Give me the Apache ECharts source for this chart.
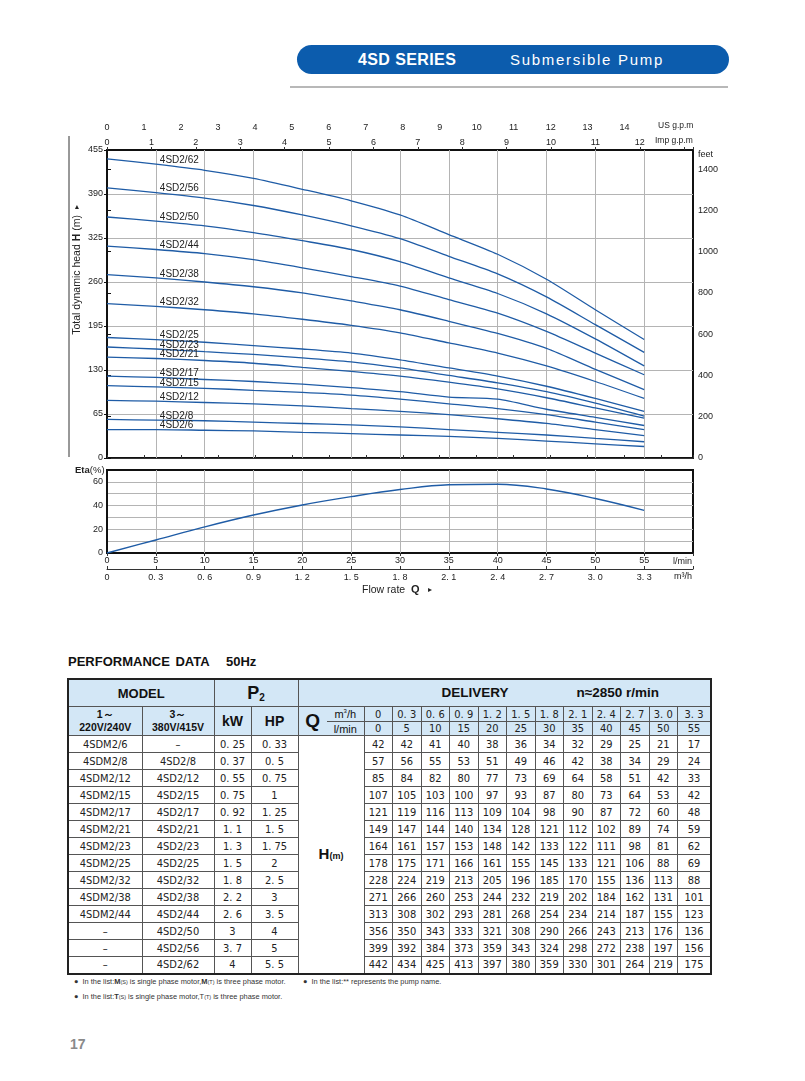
<!DOCTYPE html>
<html><head><meta charset="utf-8">
<script src="https://cdn.jsdelivr.net/npm/echarts@6/dist/echarts.min.js"></script>
<style>
body{margin:0;background:#fff;width:805px;height:1081px;position:relative;overflow:hidden;font-family:"Liberation Sans",Arial,sans-serif;color:#111;}
#pill{position:absolute;left:297px;top:45px;width:432px;height:29px;border-radius:14.5px;background:#0c5cad;}
.ptxt{position:absolute;top:45px;height:29px;line-height:29px;color:#fff;white-space:nowrap;}
#hline{position:absolute;left:290px;top:86px;width:438px;height:2px;background:#b8b8b8;}
#ptitle{position:absolute;left:68px;top:654px;font-weight:bold;font-size:13px;white-space:nowrap;word-spacing:2px;}
#perf{position:absolute;left:67px;top:678px;border-collapse:collapse;table-layout:fixed;border:2px solid #222;}
#perf td{border:1px solid #555;padding:0;text-align:center;overflow:hidden;white-space:nowrap;vertical-align:middle;}
#perf tr.hd td{background:#d3e7f6;}
#perf td.n{font-family:"Liberation Sans Narrow","DejaVu Sans Condensed",sans-serif;font-size:11px;color:#222;}
#perf td.hm{background:#fff;}
.note{position:absolute;left:74px;font-size:7.4px;color:#333;white-space:nowrap;}
#pnum{position:absolute;left:70px;top:1036px;font-size:14px;font-weight:bold;color:#8a8a8a;}
</style></head><body>
<div id="pill"></div>
<div class="ptxt" style="left:358px;font-weight:bold;font-size:16px;letter-spacing:0.4px;">4SD SERIES</div>
<div class="ptxt" style="left:510px;font-size:15px;letter-spacing:1.7px;">Submersible Pump</div>
<div id="hline"></div>
<div id="chart" style="position:absolute;left:0;top:0;width:805px;height:620px"></div>
<div id="ptitle">PERFORMANCE DATA &nbsp;&nbsp;50Hz</div>
<table id="perf"></table>
<div class="note" style="top:977px;">● &nbsp;In the list:<b>M</b><span style="font-size:5.5px">(S)</span> is single phase motor,<b>M</b><span style="font-size:5.5px">(T)</span> is three phase motor.</div>
<div class="note" style="top:977px;left:303px;">● &nbsp;In the list:** represents the pump name.</div>
<div class="note" style="top:992px;">● &nbsp;In the list:<b>T</b><span style="font-size:5.5px">(S)</span> is single phase motor,T<span style="font-size:5.5px">(T)</span> is three phase motor.</div>
<div id="pnum">17</div>
<script>
// ---------------- data ----------------
const flowLmin = [0,5,10,15,20,25,30,35,40,45,50,55];
const flowM3hLabels = ['0','0. 3','0. 6','0. 9','1. 2','1. 5','1. 8','2. 1','2. 4','2. 7','3. 0','3. 3'];
const modelSingle = ['4SDM2/6','4SDM2/8','4SDM2/12','4SDM2/15','4SDM2/17','4SDM2/21','4SDM2/23','4SDM2/25','4SDM2/32','4SDM2/38','4SDM2/44','–','–','–'];
const modelThree = ['–','4SD2/8','4SD2/12','4SD2/15','4SD2/17','4SD2/21','4SD2/23','4SD2/25','4SD2/32','4SD2/38','4SD2/44','4SD2/50','4SD2/56','4SD2/62'];
const powerKW = ['0. 25','0. 37','0. 55','0. 75','0. 92','1. 1','1. 3','1. 5','1. 8','2. 2','2. 6','3','3. 7','4'];
const powerHP = ['0. 33','0. 5','0. 75','1','1. 25','1. 5','1. 75','2','2. 5','3','3. 5','4','5','5. 5'];
const curveNames = ['4SD2/6','4SD2/8','4SD2/12','4SD2/15','4SD2/17','4SD2/21','4SD2/23','4SD2/25','4SD2/32','4SD2/38','4SD2/44','4SD2/50','4SD2/56','4SD2/62'];
const head6  = [42,42,41,40,38,36,34,32,29,25,21,17];
const head8  = [57,56,55,53,51,49,46,42,38,34,29,24];
const head12 = [85,84,82,80,77,73,69,64,58,51,42,33];
const head15 = [107,105,103,100,97,93,87,80,73,64,53,42];
const head17 = [121,119,116,113,109,104,98,90,87,72,60,48];
const head21 = [149,147,144,140,134,128,121,112,102,89,74,59];
const head23 = [164,161,157,153,148,142,133,122,111,98,81,62];
const head25 = [178,175,171,166,161,155,145,133,121,106,88,69];
const head32 = [228,224,219,213,205,196,185,170,155,136,113,88];
const head38 = [271,266,260,253,244,232,219,202,184,162,131,101];
const head44 = [313,308,302,293,281,268,254,234,214,187,155,123];
const head50 = [356,350,343,333,321,308,290,266,243,213,176,136];
const head56 = [399,392,384,373,359,343,324,298,272,238,197,156];
const head62 = [442,434,425,413,397,380,359,330,301,264,219,175];
const headSeries = [head6,head8,head12,head15,head17,head21,head23,head25,head32,head38,head44,head50,head56,head62];
const etaPercent = [0,11,22,32,40.5,47.5,53.5,57.5,58,54,46,36];

// ---------------- table ----------------
(function(){
  const colW = [74,72,37,47,29,37,28.5,28.5,28.5,28.5,28.5,28.5,28.5,28.5,28.5,28.5,28.5,33.5];
  let h = '<colgroup>' + colW.map(w=>'<col style="width:'+w+'px">').join('') + '</colgroup>';
  h += '<tr class="hd" style="height:26px">'+
    '<td colspan="2" style="font-weight:bold;font-size:13px">MODEL</td>'+
    '<td colspan="2"><b style="font-size:18px">P</b><b style="font-size:10px;vertical-align:-2px">2</b></td>'+
    '<td colspan="14"><div style="position:relative;height:26px;font-weight:bold;font-size:13.5px;line-height:26px;text-align:left">'+
    '<span style="position:absolute;left:143px">DELIVERY</span><span style="position:absolute;left:278px">n≈2850 r/min</span></div></td></tr>';
  h += '<tr class="hd" style="height:15px">'+
    '<td rowspan="2" style="font-weight:bold;font-size:10.5px;line-height:13px">1～<br>220V/240V</td>'+
    '<td rowspan="2" style="font-weight:bold;font-size:10.5px;line-height:13px">3～<br>380V/415V</td>'+
    '<td rowspan="2" style="font-weight:bold;font-size:14px">kW</td>'+
    '<td rowspan="2" style="font-weight:bold;font-size:14px">HP</td>'+
    '<td rowspan="2" style="font-weight:bold;font-size:19px;border-right:hidden">Q</td>'+
    '<td style="font-size:11px;border-left:hidden">m<sup style="font-size:6px">3</sup>/h</td>'+
    flowM3hLabels.map(v=>'<td class="n">'+v+'</td>').join('')+'</tr>';
  h += '<tr class="hd" style="height:14px">'+
    '<td style="font-size:11px;border-left:hidden">l/min</td>'+
    flowLmin.map(v=>'<td class="n">'+v+'</td>').join('')+'</tr>';
  for(let r=0;r<modelSingle.length;r++){
    h += '<tr style="height:17px">'+
      '<td class="n">'+modelSingle[r]+'</td><td class="n">'+modelThree[r]+'</td>'+
      '<td class="n">'+powerKW[r]+'</td><td class="n">'+powerHP[r]+'</td>';
    if(r===0) h += '<td colspan="2" rowspan="'+modelSingle.length+'" class="hm"><b style="font-size:15px">H</b><b style="font-size:9px">(m)</b></td>';
    const rowVals = headSeries[r];
    h += rowVals.map(v=>'<td class="n">'+v+'</td>').join('') + '</tr>';
  }
  document.getElementById('perf').innerHTML = h;
})();

// ---------------- chart ----------------
const FT = 3.28084;
const blue = '#1f5ca6';
const lab = {fontSize:9, color:'#222', fontFamily:'Liberation Sans, Arial, sans-serif'};
const split = {show:true, lineStyle:{color:'#b4b4b4', width:1}, showMinLine:false, showMaxLine:false};
const chart = echarts.init(document.getElementById('chart'), null, {renderer:'canvas'});

const headLines = curveNames.map((name,i)=>({
  type:'line', name:name, xAxisIndex:0, yAxisIndex:0, smooth:0.25,
  symbol:'circle', symbolSize:0, showSymbol:true, showAllSymbol:true, silent:true,
  lineStyle:{color:blue, width:1.3}, itemStyle:{color:blue},
  label:{show:false, position:'right', distance:4, offset:[0,-4], formatter:name,
         fontSize:10, color:'#222', fontFamily:'Liberation Sans, Arial, sans-serif'},
  data: flowLmin.map((q,k)=> k===1 ? {value:[q, headSeries[i][k]], label:{show:true}} : [q, headSeries[i][k]])
}));

const option = {
  animation:false,
  textStyle:{fontFamily:'Liberation Sans, Arial, sans-serif'},
  grid:[
    {left:107, top:150, width:586, height:308, show:true, borderColor:'#111', borderWidth:2},
    {left:107, top:470, width:586, height:83, show:true, borderColor:'#111', borderWidth:2}
  ],
  xAxis:[
    {type:'value', gridIndex:0, min:0, max:60, interval:5, axisLine:{show:false}, axisTick:{show:false}, axisLabel:{show:false}, splitLine:split},
    {type:'value', gridIndex:0, position:'top', offset:15, min:0, max:60/3.7854, interval:1,
      axisLine:{show:true, lineStyle:{color:'#333', width:1}}, axisTick:{show:true, length:3, lineStyle:{color:'#333'}},
      axisLabel:Object.assign({margin:3, formatter:v=> (v>14.01 || Math.abs(v-Math.round(v))>1e-6)?'':String(Math.round(v))}, lab), splitLine:{show:false}},
    {type:'value', gridIndex:0, position:'top', offset:0, min:0, max:60/4.54609, interval:1,
      axisLine:{show:false}, axisTick:{show:true, length:3, lineStyle:{color:'#333'}},
      axisLabel:Object.assign({margin:3, formatter:v=> (v>12.01 || Math.abs(v-Math.round(v))>1e-6)?'':String(Math.round(v))}, lab), splitLine:{show:false}},
    {type:'value', gridIndex:1, position:'bottom', min:0, max:60, interval:5,
      axisLine:{show:false}, axisTick:{show:true, length:3, lineStyle:{color:'#333'}},
      axisLabel:Object.assign({margin:3, formatter:v=> v>55?'':String(v)}, lab), splitLine:split},
    {type:'value', gridIndex:1, position:'bottom', offset:16, min:0, max:3.6, interval:0.3,
      axisLine:{show:true, lineStyle:{color:'#333', width:1}}, axisTick:{show:true, inside:true, length:3, lineStyle:{color:'#333'}},
      axisLabel:Object.assign({margin:4, formatter:v=>{const k=Math.round(v/0.3); return (k<flowM3hLabels.length && Math.abs(v-k*0.3)<1e-6)?flowM3hLabels[k]:'';}}, lab), splitLine:{show:false}}
  ],
  yAxis:[
    {type:'value', gridIndex:0, min:0, max:455, interval:65, position:'left',
      axisLine:{show:true, lineStyle:{color:'#111', width:2}}, axisTick:{show:true, length:3, lineStyle:{color:'#111'}},
      axisLabel:Object.assign({margin:4}, lab), splitLine:split},
    {type:'value', gridIndex:0, min:0, max:455*FT, interval:200, position:'right',
      axisLine:{show:true, lineStyle:{color:'#111', width:2}}, axisTick:{show:true, length:4, lineStyle:{color:'#111'}},
      axisLabel:Object.assign({margin:5, formatter:v=> (v%200===0 && v<=1400)?String(v):''}, lab), splitLine:{show:false}},
    {type:'value', gridIndex:1, min:0, max:70, interval:10, position:'left',
      axisLine:{show:true, lineStyle:{color:'#111', width:2}}, axisTick:{show:false},
      axisLabel:Object.assign({margin:4, formatter:v=> v%20===0?String(v):''}, lab), splitLine:split}
  ],
  series: headLines.concat([{
    type:'line', name:'Eta', xAxisIndex:3, yAxisIndex:2, smooth:0.4, symbol:'none', silent:true,
    lineStyle:{color:blue, width:1.4},
    data: flowLmin.map((q,k)=>[q, etaPercent[k]])
  }]),
  graphic:[
    {type:'line', shape:{x1:69, y1:136, x2:69, y2:457}, style:{stroke:'#333', lineWidth:1}},
    {type:'text', x:77, y:270, rotation:Math.PI/2, style:{
      text:'{n|Total dynamic head }{b|H}{n| (m)  }{a|▸}', align:'center', verticalAlign:'middle',
      rich:{n:{fontSize:10.5, fill:'#222', fontFamily:'Liberation Sans, Arial'}, b:{fontSize:10.5, fontWeight:'bold', fill:'#222'}, a:{fontSize:8, fill:'#222'}}}},
    {type:'text', x:658, y:126, style:{text:'US g.p.m', fontSize:8.5, fill:'#222', verticalAlign:'middle', fontFamily:'Liberation Sans, Arial'}},
    {type:'text', x:655, y:141, style:{text:'Imp g.p.m', fontSize:8.5, fill:'#222', verticalAlign:'middle', fontFamily:'Liberation Sans, Arial'}},
    {type:'text', x:698, y:155, style:{text:'feet', fontSize:9, fill:'#222', verticalAlign:'middle', fontFamily:'Liberation Sans, Arial'}},
    {type:'text', x:673, y:562, style:{text:'l/min', fontSize:9, fill:'#222', verticalAlign:'middle', fontFamily:'Liberation Sans, Arial'}},
    {type:'text', x:674, y:577, style:{text:'m³/h', fontSize:9, fill:'#222', verticalAlign:'middle', fontFamily:'Liberation Sans, Arial'}},
    {type:'text', x:75, y:470, style:{text:'{b|Eta}{n|(%)}', verticalAlign:'middle',
      rich:{b:{fontSize:9.5, fontWeight:'bold', fill:'#222'}, n:{fontSize:9.5, fill:'#222'}}}},
    {type:'text', x:362, y:590, style:{text:'{n|Flow rate  }{b|Q}{n|   }{a|▸}', verticalAlign:'middle',
      rich:{n:{fontSize:10.5, fill:'#222'}, b:{fontSize:11, fontWeight:'bold', fill:'#222'}, a:{fontSize:8, fill:'#222'}}}}
  ]
};
chart.setOption(option);
</script>
</body></html>
